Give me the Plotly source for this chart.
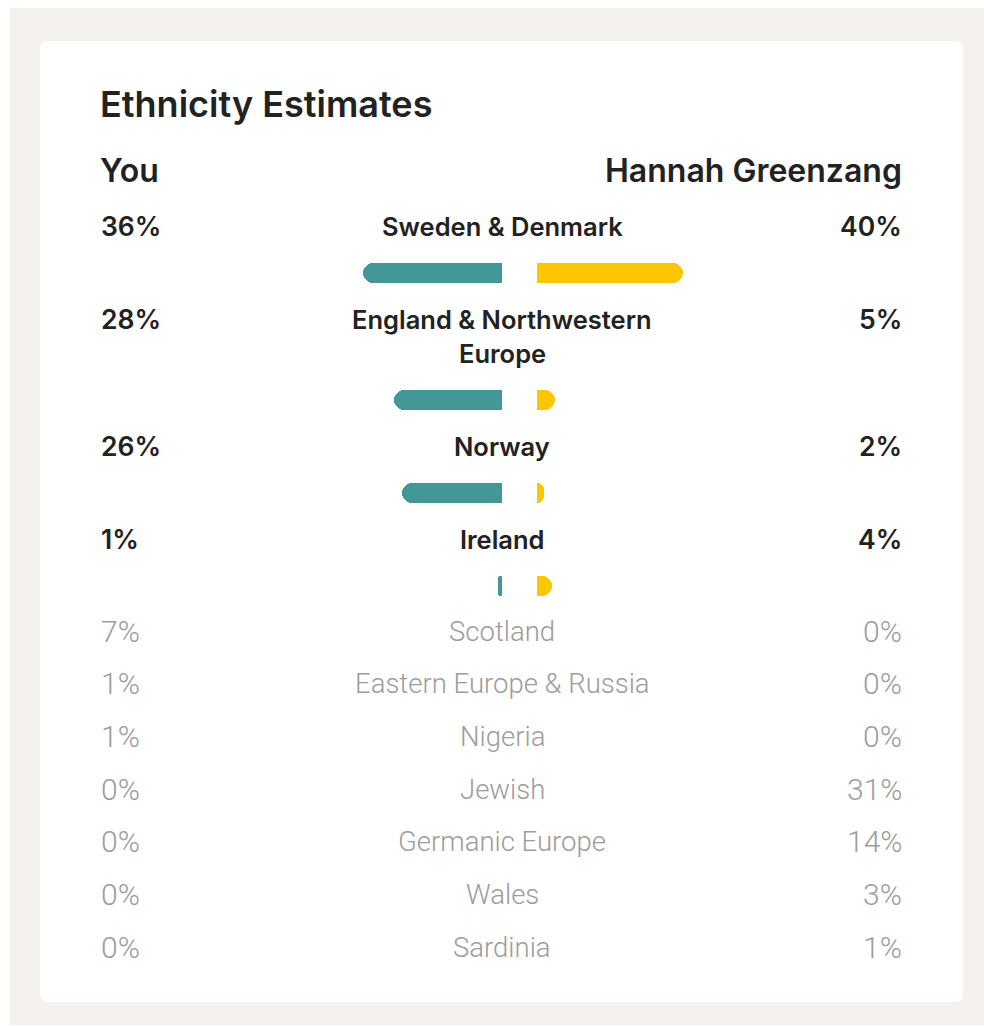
import textwrap
import plotly.graph_objects as go

# ---------------- data ----------------
main_regions = ["Sweden & Denmark", "England & Northwestern Europe", "Norway", "Ireland"]
you_main = [36, 28, 26, 1]
hannah_main = [40, 5, 2, 4]

other_regions = ["Scotland", "Eastern Europe & Russia", "Nigeria", "Jewish",
                 "Germanic Europe", "Wales", "Sardinia"]
you_other = [7, 1, 1, 0, 0, 0, 0]
hannah_other = [0, 0, 0, 31, 14, 3, 1]

title_text = "Ethnicity Estimates"
left_name = "You"
right_name = "Hannah Greenzang"

# ---------------- layout constants (pixels) ----------------
W, H = 984, 1026
LEFT_X, RIGHT_X, CENTER_X = 101, 902, 502
GAP = 35
TEAL, YELLOW = "#419896", "#fcc700"
DARK, GRAY = "#222222", "#9c9c9c"
PAGE_BG, CARD_BG = "#f4f1ee", "#ffffff"
BOLD_FONT = "Inter"
LIGHT_FONT = "Roboto"


def px(x):
    return x / W


# compute row positions
label_line_h = 34
label_to_bar = 46.5
rows = []
y = 226
for name, a, b in zip(main_regions, you_main, hannah_main):
    lines = textwrap.wrap(name, 22)
    bar_y = y + (len(lines) - 1) * label_line_h + label_to_bar
    rows.append(dict(lines=lines, y=y, bar_y=bar_y, a=a, b=b))
    y = bar_y + label_to_bar
other_y0 = rows[-1]["bar_y"] + 45.5
other_step = 52.7
other_ys = [other_y0 + i * other_step for i in range(len(other_regions))]

fig = go.Figure()

# bars (left: reversed axis, right: normal axis)
fig.add_trace(go.Bar(
    y=[r["bar_y"] for r in rows], x=you_main, orientation="h",
    width=20, marker=dict(color=TEAL, cornerradius=10, line=dict(width=0)),
    xaxis="x", yaxis="y", hoverinfo="skip", showlegend=False))
fig.add_trace(go.Bar(
    y=[r["bar_y"] for r in rows], x=hannah_main, orientation="h",
    width=20, marker=dict(color=YELLOW, cornerradius=10, line=dict(width=0)),
    xaxis="x2", yaxis="y", hoverinfo="skip", showlegend=False))

ann = []


def text(x, yv, s, size, color, weight, family, anchor):
    ann.append(dict(x=px(x), y=yv, xref="paper", yref="y", text=s, showarrow=False,
                    xanchor=anchor, yanchor="middle",
                    font=dict(size=size, color=color, family=family, weight=weight)))


text(LEFT_X - 3, 104, title_text, 36, DARK, 600, BOLD_FONT, "left")
text(LEFT_X - 3, 170, left_name, 32, DARK, 600, BOLD_FONT, "left")
text(RIGHT_X + 2, 170, right_name, 32, DARK, 600, BOLD_FONT, "right")

for r in rows:
    text(LEFT_X - 2, r["y"], f"{r['a']}%", 26.5, DARK, 600, BOLD_FONT, "left")
    text(RIGHT_X + 2, r["y"], f"{r['b']}%", 26.5, DARK, 600, BOLD_FONT, "right")
    for i, ln in enumerate(r["lines"]):
        text(CENTER_X, r["y"] + i * label_line_h, ln, 25.5, DARK, 600, BOLD_FONT, "center")

for name, a, b, yv in zip(other_regions, you_other, hannah_other, other_ys):
    text(LEFT_X - 2, yv, f"{a}%", 30, GRAY, 300, LIGHT_FONT, "left")
    text(RIGHT_X + 2, yv, f"{b}%", 30, GRAY, 300, LIGHT_FONT, "right")
    text(CENTER_X, yv, name, 27.5, GRAY, 300, LIGHT_FONT, "center")

# page and card backgrounds
r = 8
x0, x1, y0, y1 = 40, 963, 41, 1002
card_path = (f"M {px(x0 + r)},{y0} L {px(x1 - r)},{y0} Q {px(x1)},{y0} {px(x1)},{y0 + r} "
             f"L {px(x1)},{y1 - r} Q {px(x1)},{y1} {px(x1 - r)},{y1} "
             f"L {px(x0 + r)},{y1} Q {px(x0)},{y1} {px(x0)},{y1 - r} "
             f"L {px(x0)},{y0 + r} Q {px(x0)},{y0} {px(x0 + r)},{y0} Z")
shapes = [
    dict(type="rect", xref="paper", yref="y", x0=px(10), x1=1, y0=8, y1=1025,
         fillcolor=PAGE_BG, line=dict(width=0), layer="below"),
    dict(type="path", xref="paper", yref="y", path=card_path,
         fillcolor=CARD_BG, line=dict(width=0), layer="below"),
]

bar_span = 100
fig.update_layout(
    width=W, height=H,
    margin=dict(l=0, r=0, t=0, b=0),
    paper_bgcolor="white", plot_bgcolor="rgba(0,0,0,0)",
    bargap=0,
    xaxis=dict(domain=[px(CENTER_X - 3.86 * bar_span), px(CENTER_X)], range=[bar_span, 0],
               visible=False, fixedrange=True, anchor="y"),
    xaxis2=dict(domain=[px(CENTER_X + GAP), px(CENTER_X + GAP + 3.66 * bar_span)],
                range=[0, bar_span], visible=False, fixedrange=True, anchor="y"),
    yaxis=dict(domain=[0, 1], range=[H, 0], visible=False, fixedrange=True),
    annotations=ann,
    shapes=shapes,
)

fig.write_html("out.html", config={"displayModeBar": False},
               post_script="document.body.style.margin='0';")
